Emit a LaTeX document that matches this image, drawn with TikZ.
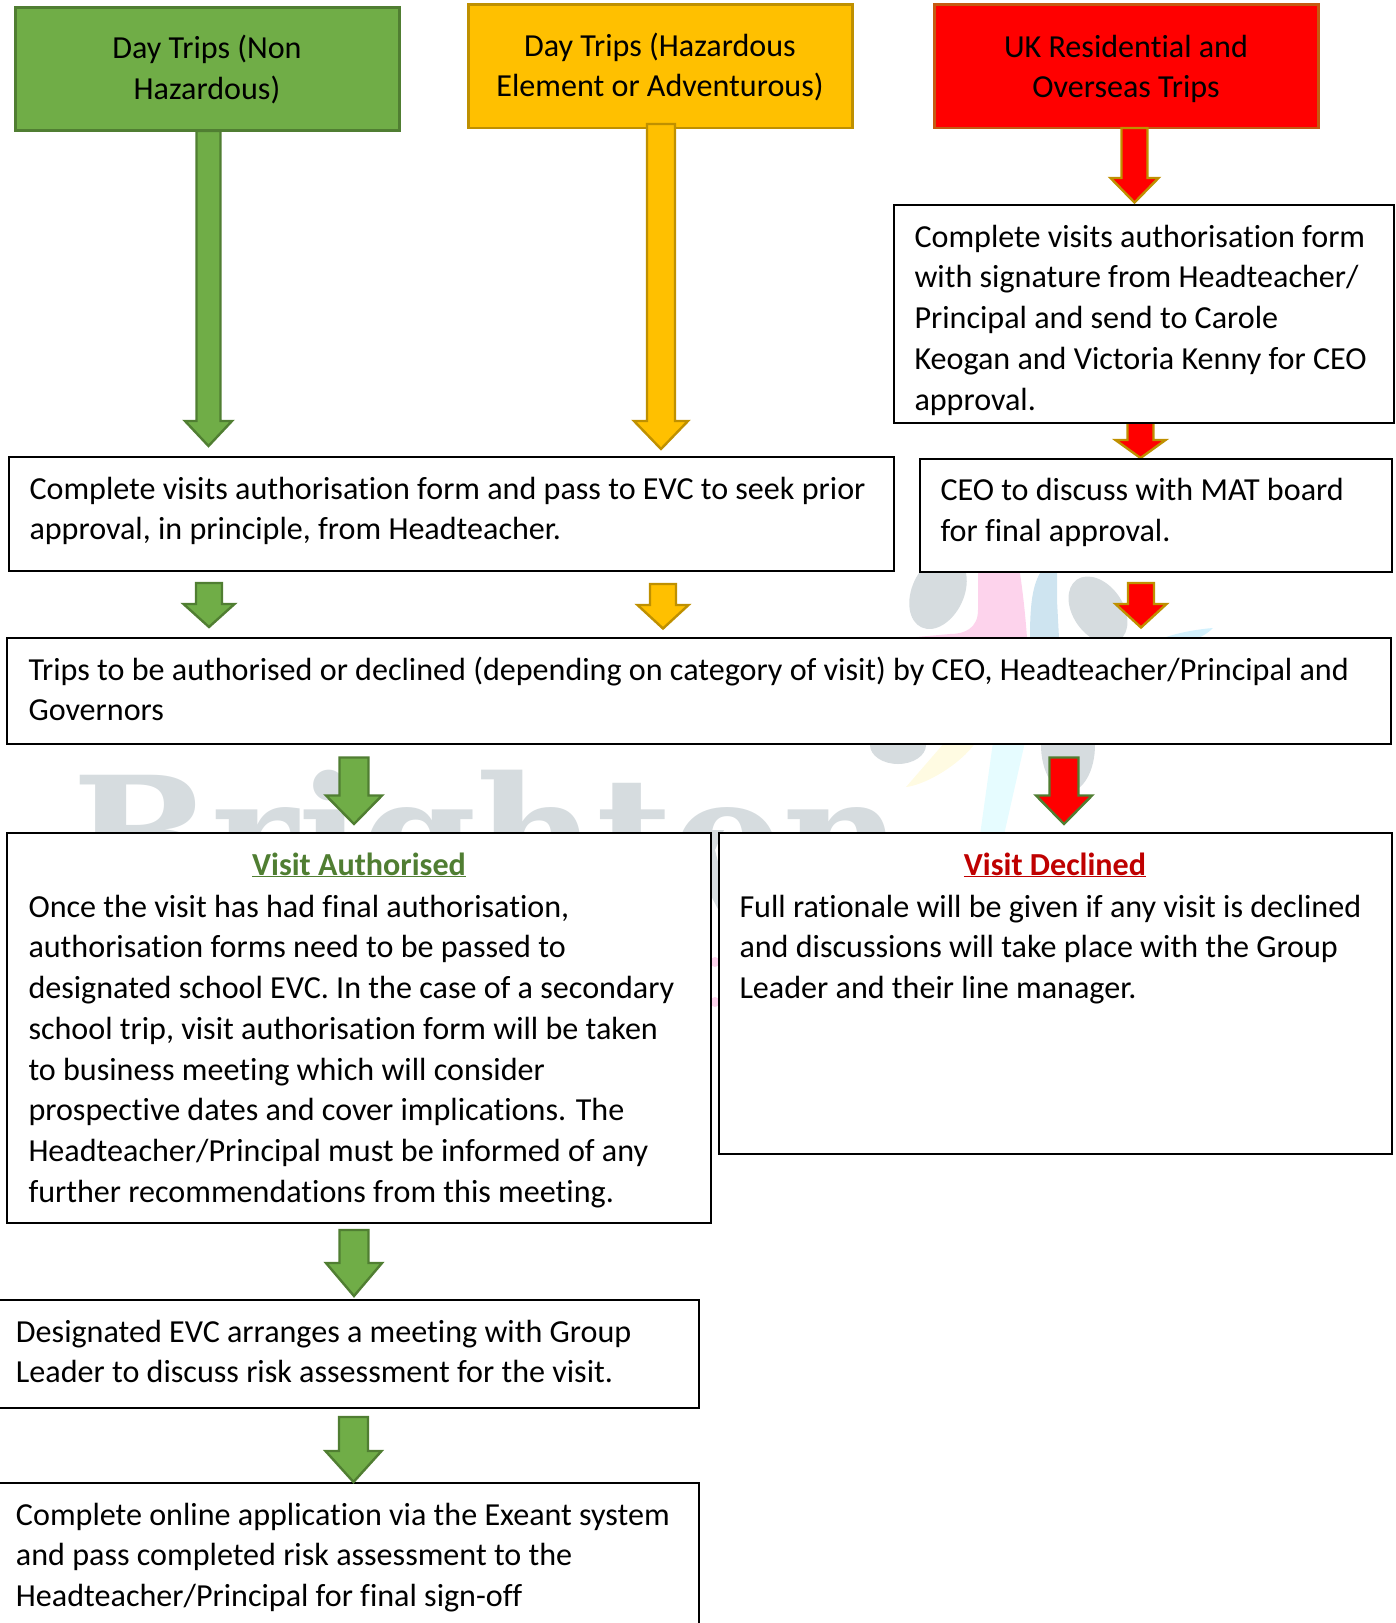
\documentclass[tikz,border=0pt]{standalone}
\usepackage{fontspec}
\setmainfont{Carlito}[Ligatures=NoCommon]
\newfontfamily\wmfont{DejaVu Serif}[BoldFont={DejaVu Serif Bold}]
\usetikzlibrary{calc}
\definecolor{gfill}{HTML}{70AD47}
\definecolor{gline}{HTML}{507E32}
\definecolor{ofill}{HTML}{FFC000}
\definecolor{oline}{HTML}{BF9000}
\definecolor{rfill}{HTML}{FF0000}
\definecolor{rline}{HTML}{C55A11}
\definecolor{wgray}{HTML}{D6DCDF}
\definecolor{wpink}{HTML}{FDD3EC}
\definecolor{wblue}{HTML}{CEE4F0}
\definecolor{wsky}{HTML}{D3F1FD}
\definecolor{wyel}{HTML}{FFFBE2}
\definecolor{wcyan}{HTML}{E6FCFF}
\tikzset{
  box/.style={draw=black,fill=white,line width=2pt,inner sep=0pt,outer sep=0pt,anchor=north west},
  head/.style={line width=2.6pt,inner sep=0pt,outer sep=0pt,anchor=north west},
  txt/.style={inner sep=0pt,outer sep=0pt,anchor=north west,align=left,font=\fontsize{32.1}{40.75}\selectfont},
  ctr/.style={inner sep=0pt,outer sep=0pt,anchor=north,align=center,font=\fontsize{32.1}{40.75}\selectfont},
  ttl/.style={inner sep=0pt,outer sep=0pt,anchor=base,font=\fontsize{32.1}{40.75}\selectfont\bfseries},
  garrow/.style={fill=gfill,draw=gline,line width=2.4pt},
  oarrow/.style={fill=ofill,draw=oline,line width=2.4pt},
  rarrow/.style={fill=rfill,draw=oline,line width=2.4pt},
  rgarrow/.style={fill=rfill,draw=gline,line width=2.4pt},
}
% name, style, xc, top, neck, tip, shaft half width, head half width
\newcommand{\blockarrow}[8]{%
  \coordinate (#1-a) at (#3,#4);
  \coordinate (#1-b) at (#3,#6);
  \draw[#2] ($(#1-a)+(-#7,0)$) -- ($(#1-a)+(#7,0)$) -- (#3+#7,#5) -- (#3+#8,#5) -- (#1-b) -- (#3-#8,#5) -- (#3-#7,#5) -- cycle;
}
\begin{document}
\begin{tikzpicture}[x=1pt,y=-1pt]
\useasboundingbox (0,0) rectangle (1396,1623);
\clip (0,0) rectangle (1396,1623);
% watermark
\node[inner sep=0pt,anchor=base west,text=wgray,font=\fontsize{165}{170}\wmfont\bfseries] (wm) at (72,895) {Brighton};
\fill[wgray,rotate around={-25:(938,592)}] (938,592) ellipse (26 and 39);
\fill[wpink] (978,560) -- (978,610) .. controls (978,628) and (965,634) .. (950,634) -- (905,638) -- (1027,638) .. controls (1025,610) and (1022,585) .. (1018,560) -- cycle;
\fill[wblue] (1057,560) -- (1057,600) -- (1059,638) -- (1030,638) .. controls (1030,600) and (1033,580) .. (1045,566) -- cycle;
\fill[wgray,rotate around={35:(1098,610)}] (1098,610) ellipse (25 and 37);
\fill[wsky] (1163,638) .. controls (1180,632) and (1200,629) .. (1213,628) .. controls (1208,633) and (1203,636) .. (1198,638) -- cycle;
\fill[wgray] (898,745) ellipse (28 and 19);
\fill[wyel] (945,742) -- (976,742) .. controls (960,765) and (925,785) .. (906,787) -- cycle;
\fill[wcyan] (993,742) -- (1025,742) -- (1004,835) -- (980,835) -- cycle;
\fill[wgray] (1068,745) ellipse (27 and 47);
\fill[wgray] (708,830) -- (724,830) -- (715,850) -- (720,870) -- (720,913) -- (708,890) -- cycle;
\fill[wpink] (715,962) circle (5);
\fill[wpink] (715,1002) circle (5);
% arrow whose tail goes under the box
\blockarrow{ar2}{rarrow}{1140.5}{420}{440}{458}{13}{25}
% boxes
\node[box,minimum width=884.5pt,minimum height=114.5pt] (A) at (9,456.5) {};
\node[box,minimum width=499.5pt,minimum height=218pt] (B) at (894,205) {};
\node[box,minimum width=472.5pt,minimum height=113pt] (C) at (919.5,458.5) {};
\node[box,minimum width=1384pt,minimum height=106pt] (D) at (7,638) {};
\node[box,minimum width=704pt,minimum height=390pt] (E) at (7,833) {};
\node[box,minimum width=673pt,minimum height=320.5pt] (F) at (718.5,833) {};
\node[box,minimum width=702pt,minimum height=108pt] (G) at (-3,1300) {};
\node[box,minimum width=702pt,minimum height=160pt] (H) at (-3,1483) {};
\node[head,fill=gfill,draw=gline,minimum width=384pt,minimum height=123pt] (H1) at (15.5,7.5) {};
\node[head,fill=ofill,draw=oline,minimum width=384pt,minimum height=123.5pt] (H2) at (468.5,4.5) {};
\node[head,fill=rfill,draw=rline,minimum width=384pt,minimum height=123.5pt] (H3) at (934.5,4.5) {};
% texts
\node[ctr] (tH1) at (207,30) {\strut Day Trips (Non\\Hazardous)};
\node[ctr] (tH2) at (660,27.5) {\strut Day Trips (Hazardous\\Element or Adventurous)};
\node[ctr] (tH3) at (1126,28.5) {\strut UK Residential and\\Overseas Trips};
\node[txt] (tA) at (29.5,470.5) {\strut Complete visits authorisation form and pass to EVC to seek prior\\approval, in principle, from Headteacher.};
\node[txt] (tB) at (914.5,218.5) {\strut Complete visits authorisation form\\with signature from Headteacher/\\Principal and send to Carole\\Keogan and Victoria Kenny for CEO\\approval.};
\node[txt] (tC) at (940.5,472) {\strut CEO to discuss with MAT board\\for final approval.};
\node[txt] (tD) at (28.5,651.5) {\strut Trips to be authorised or declined (depending on category of visit) by CEO, Headteacher/Principal and\\Governors};
\node[ttl,text=gline] (tE1) at (359,875) {\underline{Visit Authorised}};
\node[txt] (tE) at (28.5,888.5) {\strut Once the visit has had final authorisation,\\authorisation forms need to be passed to\\designated school EVC. In the case of a secondary\\school trip, visit authorisation form will be taken\\to business meeting which will consider\\prospective dates and cover implications. The\\Headteacher/Principal must be informed of any\\further recommendations from this meeting.};
\node[ttl,text=red!75!black] (tF1) at (1055,875) {\underline{Visit Declined}};
\node[txt] (tF) at (739.5,888.5) {\strut Full rationale will be given if any visit is declined\\and discussions will take place with the Group\\Leader and their line manager.};
\node[txt] (tG) at (16,1313.5) {\strut Designated EVC arranges a meeting with Group\\Leader to discuss risk assessment for the visit.};
\node[txt] (tH) at (16,1496.5) {\strut Complete online application via the Exeant system\\and pass completed risk assessment to the\\Headteacher/Principal for final sign-off};
% arrows
\blockarrow{al1}{garrow}{208.5}{131}{421}{446}{12}{23.5}
\blockarrow{al2}{oarrow}{661}{124}{421}{449}{14}{27}
\blockarrow{ar1}{rarrow}{1134.5}{128}{178}{202.5}{13}{24}
\blockarrow{as1}{garrow}{209}{583}{604}{627}{13}{25.5}
\blockarrow{as2}{oarrow}{663}{584}{605}{628.5}{13}{25.5}
\blockarrow{as3}{rarrow}{1141}{583}{604}{627.5}{13}{25.5}
\blockarrow{am1}{garrow}{354}{757.5}{795.5}{824}{14.5}{28}
\blockarrow{am2}{rgarrow}{1064}{757.5}{795.5}{824}{14.5}{28}
\blockarrow{ag3}{garrow}{354}{1230}{1263}{1296}{14.5}{28}
\blockarrow{ag4}{garrow}{353.5}{1417}{1451}{1482}{14.5}{28}
\end{tikzpicture}
\end{document}
